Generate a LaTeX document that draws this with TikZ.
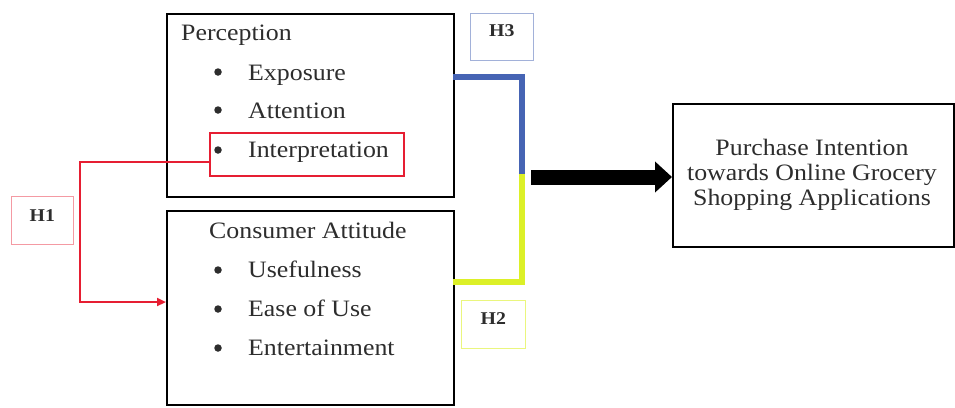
\documentclass[tikz,border=0pt]{standalone}
\usepackage{fontspec}
\setmainfont{Liberation Serif}
\usetikzlibrary{arrows.meta}
\definecolor{hred}{RGB}{230,30,50}
\definecolor{hblue}{RGB}{70,100,180}
\definecolor{hyellow}{RGB}{220,240,40}
\definecolor{txt}{RGB}{45,45,45}
\newfontfamily\diagfont[FakeStretch=1.1]{Liberation Serif}
\begin{document}
\begin{tikzpicture}[x=1pt,y=-1pt,
  box/.style={draw=black,line width=1.6pt},
  item/.style={anchor=base west,inner sep=0,text=txt,font=\diagfont\fontsize{23.5}{25}\selectfont},
  bul/.style={circle,fill=txt,inner sep=0,minimum size=7.5pt},
  hbox/.style={draw,line width=0.6pt,inner sep=0},
  htext/.style={font=\diagfont\bfseries\fontsize{18}{20}\selectfont,text=txt,inner sep=0}
]
\useasboundingbox (0,0) rectangle (955,407);
% boxes
\node[box,minimum width=287pt,minimum height=183pt,anchor=north west] (perc) at (166,13) {};
\node[box,minimum width=287pt,minimum height=194pt,anchor=north west] (cons) at (166,210) {};
\node[box,minimum width=281pt,minimum height=143pt,anchor=north west] (pi) at (672,103) {};
\node[item,anchor=base] (pit1) at (812,155) {Purchase Intention};
\node[item,anchor=base] (pit2) at (812,180) {towards Online Grocery};
\node[item,anchor=base] (pit3) at (812,205) {Shopping Applications};
% perception
\node[item] (pt) at (181,40) {Perception};
\node[bul] (b1) at (218,72) {};
\node[item] (e1) at (248,80) {Exposure};
\node[bul] (b2) at (218,110) {};
\node[item] (e2) at (248,118) {Attention};
\node[bul] (b3) at (218,150) {};
\node[item] (e3) at (248,157) {Interpretation};
\node[draw=hred,line width=2pt,minimum width=194pt,minimum height=43pt,anchor=north west] (ibox) at (209,132) {};
% consumer
\node[item] (ct) at (209,238) {Consumer Attitude};
\node[bul] (c1) at (218,270) {};
\node[item] (u1) at (248,277) {Usefulness};
\node[bul] (c2) at (218,309) {};
\node[item] (u2) at (248,316) {Ease of Use};
\node[bul] (c3) at (218,348) {};
\node[item] (u3) at (248,355) {Entertainment};
% H boxes
\node[hbox,draw=hred!45,minimum width=62pt,minimum height=48pt,anchor=north west] (h1) at (11,196) {};
\node[htext] (h1t) at ([yshift=5pt]h1.center) {H1};
\node[hbox,draw=hblue!50,minimum width=63pt,minimum height=47pt,anchor=north west] (h3) at (470,13) {};
\node[htext] (h3t) at ([yshift=6pt]h3.center) {H3};
\node[hbox,draw=hyellow!60,minimum width=64pt,minimum height=48pt,anchor=north west] (h2) at (461,300) {};
\node[htext] (h2t) at ([yshift=6pt]h2.center) {H2};
% coordinates
\coordinate (r1) at (80,162);
\coordinate (r2) at (80,302);
\coordinate (bl1) at (453,77);
\coordinate (bl2) at (522,77);
\coordinate (bl3) at (522,174);
\coordinate (y1) at (453,282);
\coordinate (y2) at (522,282);
\coordinate (y3) at (522,174);
\coordinate (ar1) at (531,177);
% connectors
\draw[hred,line width=2.2pt,-{Triangle[length=9pt,width=8pt]}] (ibox.west |- r1) -- (r1) -- (r2) -- (cons.west |- r2);
\draw[hblue,line width=6pt] (bl1) -- (bl2) -- (bl3);
\draw[hyellow,line width=6pt] (y1) -- (y2) -- (y3);
\draw[black,line width=15pt,-{Triangle[length=17pt,width=30pt]}] (ar1) -- (pi.west |- ar1);
\end{tikzpicture}
\end{document}
